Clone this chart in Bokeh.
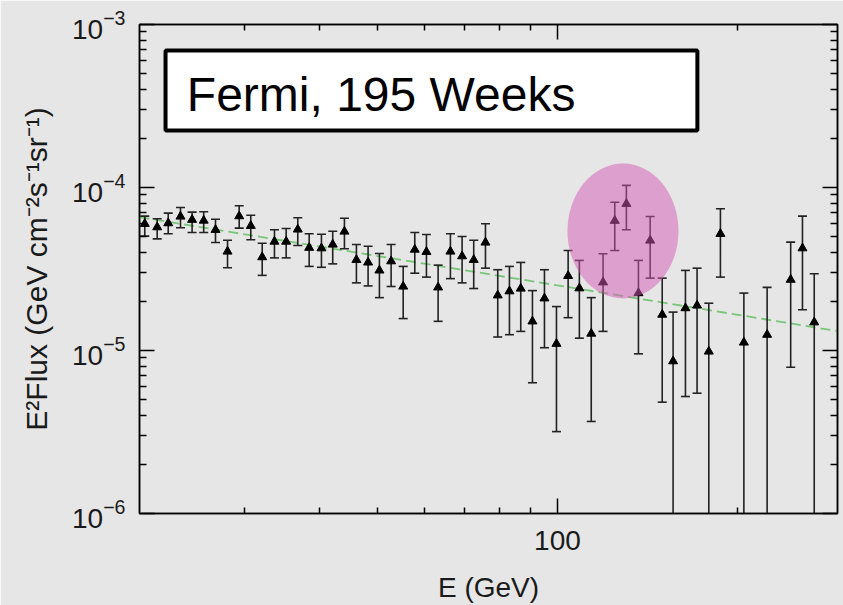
from bokeh.plotting import figure
from bokeh.models import (Range1d, FixedTicker, LogAxis, PrintfTickFormatter,
                          Label, ColumnDataSource)
from bokeh.embed import file_html
from bokeh.resources import INLINE

# ---- data ----
energy = [20.41, 21.41, 22.34, 23.42, 24.49, 25.61, 26.80, 28.07, 29.36, 30.70,
          32.08, 33.63, 35.18, 36.79, 38.44, 40.30, 42.09, 44.03, 46.11, 48.23,
          50.38, 52.70, 55.21, 57.73, 60.38, 63.16, 66.22, 69.27, 72.44, 75.79,
          79.46, 83.12, 86.82, 90.82, 95.12, 99.62, 104.2, 108.8, 113.9, 119.2,
          124.7, 130.4, 136.6, 142.9, 149.7, 156.1, 163.7, 171.2, 179.1, 187.3,
          205.0, 224.2, 245.5, 256.9, 268.8]
flux = [5.99e-5, 5.71e-5, 6.04e-5, 6.64e-5, 6.34e-5, 6.27e-5, 5.50e-5, 4.05e-5, 6.67e-5, 5.82e-5,
        3.74e-5, 4.66e-5, 4.66e-5, 5.53e-5, 4.27e-5, 4.24e-5, 4.47e-5, 5.37e-5, 3.60e-5, 3.47e-5,
        3.10e-5, 3.53e-5, 2.47e-5, 4.16e-5, 4.03e-5, 2.44e-5, 4.05e-5, 3.79e-5, 3.60e-5, 4.60e-5,
        2.18e-5, 2.31e-5, 2.40e-5, 1.51e-5, 2.09e-5, 1.10e-5, 2.87e-5, 2.41e-5, 1.27e-5, 2.62e-5,
        6.25e-5, 7.94e-5, 2.25e-5, 4.73e-5, 1.66e-5, 8.60e-6, 1.82e-5, 1.89e-5, 9.86e-6, 5.20e-5,
        1.12e-5, 1.25e-5, 2.72e-5, 4.24e-5, 1.49e-5]
flux_hi = [6.67e-5, 6.43e-5, 6.96e-5, 7.54e-5, 7.06e-5, 7.10e-5, 6.39e-5, 4.75e-5, 7.72e-5, 6.76e-5,
           4.55e-5, 5.50e-5, 5.60e-5, 6.52e-5, 5.20e-5, 5.17e-5, 5.39e-5, 6.48e-5, 4.47e-5, 4.36e-5,
           3.94e-5, 4.47e-5, 3.28e-5, 5.30e-5, 5.15e-5, 3.34e-5, 5.20e-5, 5.00e-5, 4.75e-5, 5.99e-5,
           3.13e-5, 3.28e-5, 3.47e-5, 2.33e-5, 3.13e-5, 1.86e-5, 4.11e-5, 3.57e-5, 2.11e-5, 3.92e-5,
           8.12e-5, 1.03e-4, 3.57e-5, 6.64e-5, 2.78e-5, 1.72e-5, 3.10e-5, 3.20e-5, 1.95e-5, 7.40e-5,
           2.25e-5, 2.44e-5, 4.62e-5, 6.67e-5, 2.96e-5]
flux_lo = [5.03e-5, 4.84e-5, 5.20e-5, 5.66e-5, 5.30e-5, 5.30e-5, 4.60e-5, 3.22e-5, 5.63e-5, 4.78e-5,
           2.89e-5, 3.70e-5, 3.70e-5, 4.41e-5, 3.28e-5, 3.24e-5, 3.40e-5, 4.21e-5, 2.60e-5, 2.49e-5,
           2.11e-5, 2.47e-5, 1.57e-5, 2.98e-5, 2.82e-5, 1.51e-5, 2.76e-5, 2.60e-5, 2.40e-5, 3.20e-5,
           1.21e-5, 1.25e-5, 1.31e-5, 6.34e-6, 1.04e-5, 3.18e-6, 1.59e-5, 1.19e-5, 3.67e-6, 1.31e-5,
           4.11e-5, 5.50e-5, 9.54e-6, 2.78e-5, 4.82e-6, 0.0, 5.22e-6, 5.47e-6, 0.0, 2.82e-5,
           0.0, 0.0, 7.90e-6, 1.78e-5, 0.0]

# power-law fit line endpoints
fit_energy = [20.0, 300.0]
fit_flux = [6.58e-5, 1.30e-5]

# tick values
x_major = [100]
x_minor = [30, 40, 50, 60, 70, 80, 90, 200, 300]
y_major = [1e-6, 1e-5, 1e-4, 1e-3]
y_minor = [m * d for d in [1e-6, 1e-5, 1e-4] for m in range(2, 10)]

title_text = "Fermi, 195 Weeks"
x_label = "E (GeV)"
y_label = "E\u00b2Flux (GeV cm\u207b\u00b2s\u207b\u00b9sr\u207b\u00b9)"

FONT = "Liberation Sans"
BG = "#e6e6e6"
INK = "#1a1a1a"

lo_plot = [v if v > 0 else 1e-9 for v in flux_lo]
src = ColumnDataSource(dict(x=energy, y=flux, hi=flux_hi, lo=lo_plot))

p = figure(width=843, height=605, x_axis_type="log", y_axis_type="log",
           x_range=Range1d(20, 294), y_range=Range1d(1e-6, 1e-3),
           output_backend="svg", toolbar_location=None,
           min_border_left=139, min_border_right=6, min_border_top=24,
           min_border_bottom=92)
p.background_fill_color = BG
p.border_fill_color = BG
p.outline_line_color = "black"
p.outline_line_width = 1.5
p.grid.visible = False

xt = FixedTicker(ticks=x_major, minor_ticks=x_minor)
yt = FixedTicker(ticks=y_major, minor_ticks=y_minor)

def style(ax, tick_in, minor_in):
    ax.major_tick_in = tick_in
    ax.major_tick_out = 0
    ax.minor_tick_in = minor_in
    ax.minor_tick_out = 0
    ax.major_tick_line_color = "black"
    ax.minor_tick_line_color = "black"
    ax.major_tick_line_width = 1.5
    ax.minor_tick_line_width = 1.5
    ax.axis_line_color = "black"
    ax.axis_line_width = 1.5

xa = p.xaxis[0]
xa.ticker = xt
xa.formatter = PrintfTickFormatter(format="%d")
style(xa, 15, 6)
xa.major_label_text_font = FONT
xa.major_label_text_font_size = "28px"
xa.major_label_text_color = INK
xa.major_label_standoff = 17
xa.axis_label = x_label
xa.axis_label_text_font = FONT
xa.axis_label_text_font_size = "28px"
xa.axis_label_text_font_style = "normal"
xa.axis_label_text_color = INK
xa.axis_label_standoff = 19

ya = p.yaxis[0]
ya.ticker = yt
style(ya, 15, 7)
ya.major_label_text_font = FONT
ya.major_label_text_font_size = "28px"
ya.major_label_text_color = INK
ya.major_label_standoff = 14
ya.axis_label = y_label
ya.axis_label_text_font = FONT
ya.axis_label_text_font_size = "30px"
ya.axis_label_text_font_style = "normal"
ya.axis_label_text_color = INK
ya.axis_label_standoff = 16

top = LogAxis(ticker=xt, formatter=PrintfTickFormatter(format="%d"),
              major_label_text_font_size="1px", major_label_text_alpha=0,
              major_label_standoff=0)
style(top, 15, 6)
p.add_layout(top, "above")
right = LogAxis(ticker=yt, formatter=PrintfTickFormatter(format="%d"),
                major_label_text_font_size="1px", major_label_text_alpha=0,
                major_label_standoff=0)
style(right, 15, 7)
p.add_layout(right, "right")

# fit line
p.line(fit_energy, fit_flux, line_color="#5cbf5c", line_width=1.8,
       line_dash="10 5", line_alpha=0.8)

# error bars + caps + points
p.segment(x0="x", y0="lo", x1="x", y1="hi", source=src, line_color="#222222",
          line_width=1.6)
p.scatter(x="x", y="hi", source=src, marker="dash", size=9, line_color="#222222",
          line_width=1.6)
p.scatter(x="x", y="lo", source=src, marker="dash", size=9, line_color="#222222",
          line_width=1.6)
p.scatter(x="x", y="y", source=src, marker="triangle", size=9,
          fill_color="black", line_color="black")

# highlight ellipse
p.ellipse(x=[128.7], y=[5.41e-5], width=111, height=135,
          width_units="screen", height_units="screen",
          fill_color="#d458b4", fill_alpha=0.5, line_color=None)

# title box
p.quad(left=[22.11], right=[171.4], top=[6.93e-4], bottom=[2.237e-4],
       fill_color="white", line_color="black", line_width=4)
p.add_layout(Label(x=24.0, y=3.72e-4, text=title_text, text_font=FONT,
                   text_font_size="48px", text_color="black",
                   text_baseline="alphabetic"))

open("out.html", "w").write(file_html(p, INLINE))
